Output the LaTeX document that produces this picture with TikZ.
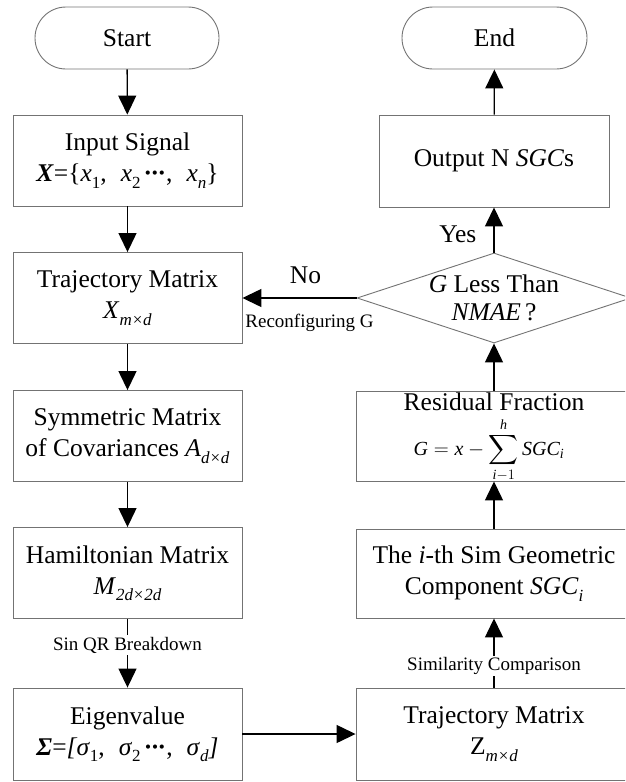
\documentclass[tikz,border=0pt]{standalone}
\usepackage{amsmath}
\usepackage{fontspec}
\setmainfont{Liberation Serif}
\usetikzlibrary{arrows.meta,shapes.geometric}

% lowered small index text (subscripts set in the text font)
\newcommand{\lowtxt}[1]{\raisebox{-0.25em}{\fontsize{17}{17}\selectfont #1}}
% centred ellipsis built from middle dots
\newcommand{\midots}{\kern0.12em{\bfseries\textperiodcentered\kern-0.06em\textperiodcentered\kern-0.06em\textperiodcentered}}

\begin{document}
\begin{tikzpicture}[x=1pt,y=-1pt,
  box/.style={draw=black!55, line width=0.9pt, minimum width=229pt, minimum height=91pt,
    inner sep=0pt, align=center, font=\fontsize{25.5}{31}\selectfont},
  wbox/.style={box, minimum width=276pt},
  pill/.style={draw=black!55, line width=0.9pt, rounded corners=31pt, minimum width=184pt,
    minimum height=62pt, inner sep=0pt, font=\fontsize{25.5}{31}\selectfont},
  flow/.style={line width=1.3pt, -{Triangle[width=18pt,length=19pt]}},
  note/.style={font=\fontsize{19}{19}\selectfont, fill=white, inner sep=1.5pt},
  tag/.style={font=\fontsize{25.5}{31}\selectfont, inner sep=0pt},
]
\useasboundingbox (0,0) rectangle (625,782);
\clip (0,0) rectangle (625,782);

% left column
\node[pill] (start) at (127,38) {Start};
\node[box] (input) at (127.5,160.5) {Input Signal\\
  \textbf{\textit{X}}=\{\textit{x}\lowtxt{1},\hspace{0.55em}\textit{x}\lowtxt{2}\midots,\hspace{0.55em}\textit{x}\lowtxt{\textit{n}}\}};
\node[box] (trajx) at (127.5,298) {Trajectory Matrix\\ \textit{X}\lowtxt{\textit{m}\kern0.05em×\kern0.05em\textit{d}}};
\node[box] (sym) at (127.5,436) {Symmetric Matrix\\ of Covariances \textit{A}\lowtxt{\textit{d}\kern0.05em×\kern0.05em\textit{d}}};
\node[box] (ham) at (127.5,573) {Hamiltonian Matrix\\ \textit{M}\lowtxt{\textit{2d}\kern0.05em×\kern0.05em\textit{2d}}};
\node[box, minimum height=92pt] (eig) at (127.5,734) {Eigenvalue\\
  \textbf{\textit{Σ}}=\textit{[σ}\lowtxt{1},\hspace{0.55em}\textit{σ}\lowtxt{2}\midots,\hspace{0.55em}\textit{σ}\lowtxt{\textit{d}}\textit{]}};

% right column
\node[wbox, minimum height=92pt] (trajz) at (494,734) {Trajectory Matrix\\ Z\lowtxt{\textit{m}\kern0.05em×\kern0.05em\textit{d}}};
\node[wbox, minimum height=89pt] (ith) at (494,573.5) {The \textit{i}-th Sim Geometric\\ Component \textit{SGC}\lowtxt{\textit{i}}};
\node[wbox, minimum height=90pt] (res) at (494,436) {};
\node[tag, anchor=base] (restitle) at (494,410) {Residual Fraction};
\node[inner sep=0pt, anchor=base, font=\fontsize{20}{20}\selectfont] (resform) at (489,455)
  {$\textit{G} = \textit{x} - \displaystyle\sum_{\textit{i}-1}^{\textit{h}}\textit{SGC}_{\textit{i}}$};
\node[diamond, draw=black!55, line width=0.9pt, inner sep=0pt, minimum width=274pt, minimum height=90pt,
  label={[tag, align=center, font=\fontsize{25.5}{28}\selectfont]center:\textit{G} Less Than\\ \textit{NMAE}\,?}] (dec) at (494,298) {};
\node[box, minimum width=230pt, minimum height=92pt] (out) at (494,161) {Output N \textit{SGC}s};
\node[pill, minimum width=185pt] (end) at (494.5,38) {End};

% connectors
\draw[flow] (start) -- (input);
\draw[flow] (input) -- (trajx);
\draw[flow] (trajx) -- (sym);
\draw[flow] (sym) -- (ham);
\draw[flow] (ham) -- node[note, pos=0.38] {Sin QR Breakdown} (eig);
\draw[flow] (eig.east) -- (eig.east -| trajz.west);
\draw[flow] (trajz) -- node[note, pos=0.31] {Similarity Comparison} (ith);
\draw[flow] (ith) -- (res);
\draw[flow] (res) -- (dec);
\draw[flow] (dec) -- node[tag, pos=0.4, left=17pt] {Yes} (out);
\draw[flow] (out) -- (end);
\draw[flow] (dec.west) -- node[tag, above=14pt, xshift=6pt] {No}
  node[note, below=14pt, xshift=10pt, fill=none] {Reconfiguring G} (dec.west -| trajx.east);
\end{tikzpicture}
\end{document}
